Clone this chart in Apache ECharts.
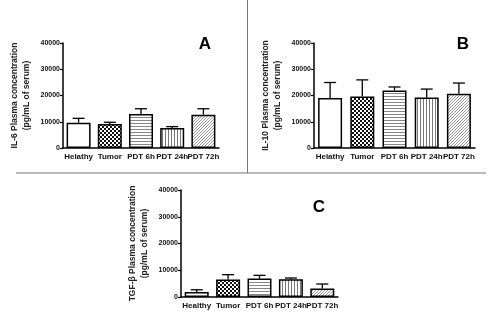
<!DOCTYPE html>
<html><head><meta charset="utf-8">
<script src="https://cdn.jsdelivr.net/npm/echarts@6/dist/echarts.min.js"></script>
<style>html,body{margin:0;padding:0;background:#fff}#c{width:500px;height:316px}</style>
</head><body><div id="c"></div>
<script>
// ---- data ----
const catsAB = ['Helathy', 'Tumor', 'PDT 6h', 'PDT 24h', 'PDT 72h'];
const catsC = ['Healthy', 'Tumor', 'PDT 6h', 'PDT 24h', 'PDT 72h'];
const il6Mean = [9600, 9150, 12950, 7650, 12700];
const il6Upper = [11300, 9800, 14950, 8150, 14950];
const il10Mean = [19050, 19650, 21950, 19250, 20700];
const il10Upper = [24950, 25950, 23250, 22450, 24750];
const tgfMean = [1900, 6500, 6900, 6600, 3200];
const tgfUpper = [2700, 8350, 8100, 7100, 4850];
const yTicks = [0, 10000, 20000, 30000, 40000];
const yTitles = ['IL-6 Plasma concentration\n(pg/mL of serum)', 'IL-10 Plasma concentration\n(pg/mL of serum)', 'TGF-β Plasma concentration\n(pg/mL of serum)'];
const panelLetters = ['A', 'B', 'C'];

// ---- patterns ----
function pat(w, h, draw) {
  const c = document.createElement('canvas'); c.width = w; c.height = h;
  const g = c.getContext('2d'); g.fillStyle = '#fff'; g.fillRect(0, 0, w, h); draw(g); return c;
}
const pChecker = pat(4, 4, g => { g.fillStyle = '#111'; g.fillRect(0, 0, 2, 2); g.fillRect(2, 2, 2, 2); });
const pHoriz = pat(3, 3, g => { g.fillStyle = '#888'; g.fillRect(0, 0, 3, 1); });
const pVert = pat(3, 3, g => { g.fillStyle = '#777'; g.fillRect(0, 0, 1, 3); });
const pDiag = pat(3, 3, g => { g.fillStyle = '#999'; g.fillRect(0, 2, 1, 1); g.fillRect(1, 1, 1, 1); g.fillRect(2, 0, 1, 1); });
const fills = ['#ffffff', { image: pChecker, repeat: 'repeat' }, { image: pHoriz, repeat: 'repeat' }, { image: pVert, repeat: 'repeat' }, { image: pDiag, repeat: 'repeat' }];

const font = 'Liberation Sans, Arial, sans-serif';
const grids = [
  { left: 63, top: 43, width: 156, height: 105 },
  { left: 314, top: 43, width: 161, height: 105 },
  { left: 181, top: 190, width: 157, height: 107 }
];
const allCats = [catsAB, catsAB, catsC];
const means = [il6Mean, il10Mean, tgfMean];
const uppers = [il6Upper, il10Upper, tgfUpper];

const xAxis = [], yAxis = [], series = [];
grids.forEach((g, i) => {
  xAxis.push({
    type: 'category', gridIndex: i, data: allCats[i],
    axisLine: { lineStyle: { color: '#000', width: 1.5 } },
    axisTick: { show: false },
    axisLabel: { interval: 0, color: '#111', fontFamily: font, fontWeight: 'bold', fontSize: 8, margin: 5 }
  });
  yAxis.push({
    type: 'value', gridIndex: i, min: yTicks[0], max: yTicks[yTicks.length - 1], interval: 10000,
    splitLine: { show: false },
    axisLine: { show: true, lineStyle: { color: '#000', width: 1.5 } },
    axisTick: { show: true, length: 3, lineStyle: { color: '#000', width: 1.2 } },
    axisLabel: { color: '#111', fontFamily: font, fontWeight: 'bold', fontSize: 7, margin: 3, formatter: v => String(v) },
    name: yTitles[i], nameLocation: 'middle', nameRotate: 90, nameGap: 30,
    nameTextStyle: { color: '#222', fontFamily: font, fontWeight: 'bold', fontSize: 8.5, lineHeight: 12 }
  });
  series.push({
    type: 'bar', xAxisIndex: i, yAxisIndex: i, barWidth: 24,
    data: means[i].map((v, k) => ({ value: v, itemStyle: { color: fills[k] } })),
    itemStyle: { borderColor: '#000', borderWidth: 1.5 },
    z: 2
  });
  series.push({
    type: 'custom', xAxisIndex: i, yAxisIndex: i, z: 1,
    data: means[i].map((v, k) => [k, v, uppers[i][k]]),
    renderItem: function (params, api) {
      const base = api.coord([api.value(0), api.value(1)]);
      const top = api.coord([api.value(0), api.value(2)]);
      const x = base[0];
      return {
        type: 'group', children: [
          { type: 'line', shape: { x1: x, y1: base[1], x2: x, y2: top[1] }, style: { stroke: '#000', lineWidth: 1.3 } },
          { type: 'line', shape: { x1: x - 6, y1: top[1], x2: x + 6, y2: top[1] }, style: { stroke: '#000', lineWidth: 1.3 } }
        ]
      };
    }
  });
});

const letterPos = [[205, 44], [463, 44], [319, 207]];
const graphic = [
  { type: 'line', shape: { x1: 247.5, y1: 0, x2: 247.5, y2: 173 }, style: { stroke: '#777', lineWidth: 1 } },
  { type: 'line', shape: { x1: 16, y1: 173, x2: 486, y2: 173 }, style: { stroke: '#777', lineWidth: 1 } }
];
panelLetters.forEach((L, i) => graphic.push({
  type: 'text', x: letterPos[i][0], y: letterPos[i][1],
  style: { text: L, font: 'bold 17px ' + font, fill: '#000', textAlign: 'center', textVerticalAlign: 'middle' }
}));

const chart = echarts.init(document.getElementById('c'), null, { renderer: 'canvas' });
chart.setOption({
  animation: false, backgroundColor: '#fff',
  grid: grids, xAxis, yAxis, series, graphic
});
</script></body></html>
